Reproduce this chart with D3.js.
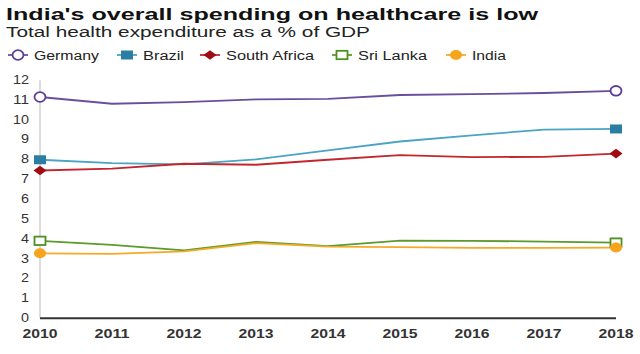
<!DOCTYPE html>
<html>
<head>
<meta charset="utf-8">
<script src="https://cdn.jsdelivr.net/npm/d3@7"></script>
<style>
  body { margin: 0; background: #fff; }
  text { font-family: "Liberation Sans", Arial, sans-serif; }
</style>
</head>
<body>
<svg id="chart" width="640" height="354"></svg>
<script>
// data
const years = [2010, 2011, 2012, 2013, 2014, 2015, 2016, 2017, 2018];
const germany = [11.11, 10.77, 10.85, 10.99, 11.01, 11.21, 11.25, 11.31, 11.42];
const brazil = [7.95, 7.78, 7.72, 7.97, 8.42, 8.87, 9.18, 9.47, 9.50];
const southAfrica = [7.41, 7.50, 7.75, 7.70, 7.95, 8.18, 8.08, 8.10, 8.26];
const sriLanka = [3.87, 3.67, 3.39, 3.82, 3.60, 3.88, 3.87, 3.83, 3.78];
const india = [3.24, 3.21, 3.34, 3.75, 3.58, 3.55, 3.51, 3.51, 3.53];
const yTicks = [0, 1, 2, 3, 4, 5, 6, 7, 8, 9, 10, 11, 12];

const series = [
    { name: "Germany", values: germany, line: "#6a4e9d", marker: "circle-open", mcol: "#5c3d95", legendW: 65 },
    { name: "Brazil", values: brazil, line: "#4aa4c3", marker: "square", mcol: "#2b7ea3", legendW: 41 },
    { name: "South Africa", values: southAfrica, line: "#c1272d", marker: "diamond", mcol: "#9e0b13", legendW: 88 },
    { name: "Sri Lanka", values: sriLanka, line: "#5c9a2b", marker: "square-open", mcol: "#4f8f21", legendW: 69 },
    { name: "India", values: india, line: "#f5aa25", marker: "circle", mcol: "#f5a51c", legendW: 34 }
];

const svg = d3.select("#chart");

const x = d3.scaleLinear().domain([2010, 2018]).range([40, 616]);
const y = d3.scaleLinear().domain([0, 12]).range([317.7, 79.3]);

// titles
svg.append("text")
    .attr("x", 6).attr("y", 20)
    .attr("font-size", 17).attr("font-weight", "bold").attr("fill", "#111")
    .attr("textLength", 532).attr("lengthAdjust", "spacingAndGlyphs")
    .text("India's overall spending on healthcare is low");

svg.append("text")
    .attr("x", 6).attr("y", 37)
    .attr("font-size", 14).attr("fill", "#222")
    .attr("textLength", 364).attr("lengthAdjust", "spacingAndGlyphs")
    .text("Total health expenditure as a % of GDP");

function drawMarker(g, type, cx, cy, col) {
    if (type === "circle-open") {
        g.append("ellipse").attr("cx", cx).attr("cy", cy).attr("rx", 5.5).attr("ry", 4.8)
            .attr("fill", "#fff").attr("stroke", col).attr("stroke-width", 1.8);
    } else if (type === "circle") {
        g.append("ellipse").attr("cx", cx).attr("cy", cy).attr("rx", 6).attr("ry", 5)
            .attr("fill", col);
    } else if (type === "square") {
        g.append("rect").attr("x", cx - 6).attr("y", cy - 4.5).attr("width", 12).attr("height", 9)
            .attr("fill", col);
    } else if (type === "square-open") {
        g.append("rect").attr("x", cx - 5.5).attr("y", cy - 4.2).attr("width", 11).attr("height", 8.4)
            .attr("fill", "#fff").attr("stroke", col).attr("stroke-width", 1.8);
    } else if (type === "diamond") {
        g.append("path")
            .attr("d", `M${cx - 6.5},${cy}L${cx},${cy - 4.8}L${cx + 6.5},${cy}L${cx},${cy + 4.8}Z`)
            .attr("fill", col);
    }
}

// legend
const legendX = [8, 117, 200, 332, 446];
const legend = svg.append("g");
series.forEach((s, i) => {
    const lx = legendX[i];
    legend.append("line")
        .attr("x1", lx).attr("x2", lx + 20).attr("y1", 55).attr("y2", 55)
        .attr("stroke", s.line).attr("stroke-width", 1.8);
    drawMarker(legend, s.marker, lx + 10, 55, s.mcol);
    legend.append("text")
        .attr("x", lx + 26).attr("y", 59.5)
        .attr("font-size", 12.5).attr("fill", "#222")
        .attr("textLength", s.legendW).attr("lengthAdjust", "spacingAndGlyphs")
        .text(s.name);
});

// y axis labels and light axis line
svg.append("line")
    .attr("x1", x(2010)).attr("x2", x(2010))
    .attr("y1", y(12) + 1).attr("y2", y(0))
    .attr("stroke", "#d0d0d0").attr("stroke-width", 1.5);

svg.append("g").selectAll("text")
    .data(yTicks)
    .join("text")
    .attr("x", 29)
    .attr("y", d => y(d) + 4.5)
    .attr("text-anchor", "end")
    .attr("font-size", 13).attr("fill", "#333")
    .attr("textLength", d => d >= 10 ? 16 : 8).attr("lengthAdjust", "spacingAndGlyphs")
    .text(d => d);

// x axis
svg.append("line")
    .attr("x1", x(2010)).attr("x2", x(2018))
    .attr("y1", y(0) + 0.5).attr("y2", y(0) + 0.5)
    .attr("stroke", "#333").attr("stroke-width", 2);

svg.append("g").selectAll("text")
    .data(years)
    .join("text")
    .attr("x", d => x(d))
    .attr("y", 338)
    .attr("text-anchor", "middle")
    .attr("font-size", 13).attr("font-weight", "bold").attr("fill", "#333")
    .attr("textLength", 35).attr("lengthAdjust", "spacingAndGlyphs")
    .text(d => d);

// lines
const line = d3.line()
    .x((d, i) => x(years[i]))
    .y(d => y(d));

const plot = svg.append("g");
series.forEach(s => {
    plot.append("path")
        .datum(s.values)
        .attr("fill", "none")
        .attr("stroke", s.line)
        .attr("stroke-width", 1.8)
        .attr("d", line);
});

// end markers
series.forEach(s => {
    [0, years.length - 1].forEach(i => {
        drawMarker(plot, s.marker, x(years[i]), y(s.values[i]), s.mcol);
    });
});
</script>
</body>
</html>
